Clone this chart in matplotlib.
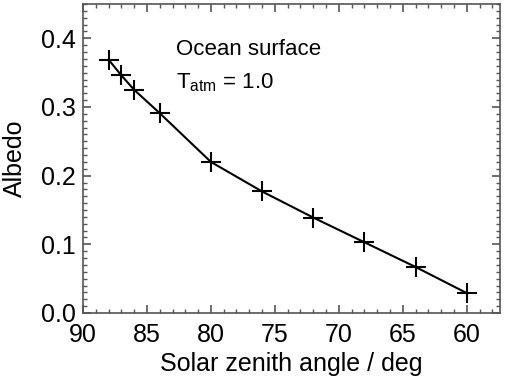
import matplotlib
matplotlib.use("Agg")
import matplotlib.pyplot as plt
from matplotlib.ticker import MultipleLocator, FormatStrFormatter

plt.rcParams['font.family'] = ['Liberation Sans', 'DejaVu Sans']
plt.rcParams['mathtext.fontset'] = 'custom'
plt.rcParams['mathtext.rm'] = 'Liberation Sans'

zenith = [88, 87, 86, 84, 80, 76, 72, 68, 64, 60]
albedo = [0.369, 0.346, 0.325, 0.291, 0.220, 0.177, 0.139, 0.103, 0.067, 0.029]

fig = plt.figure(figsize=(5.09, 3.81), dpi=100)
ax = fig.add_axes([83/509, 1 - 313/381, (500 - 83)/509, (313 - 4)/381])

ax.plot(zenith, albedo, color='black', linewidth=1.5, marker='+',
        markersize=14.5, markeredgewidth=1.5)

ax.set_xlim(90, 57.4)
ax.set_ylim(0, 0.45)
ax.xaxis.set_major_locator(MultipleLocator(5))
ax.xaxis.set_minor_locator(MultipleLocator(1))
ax.yaxis.set_major_locator(MultipleLocator(0.1))
ax.yaxis.set_minor_locator(MultipleLocator(0.01))
ax.yaxis.set_major_formatter(FormatStrFormatter('%.1f'))

ax.tick_params(which='both', direction='in', top=True, right=True,
               color='#555555', labelsize=18)
ax.tick_params(which='major', length=6, width=1.2)
ax.tick_params(which='minor', length=3, width=1.0)
ax.tick_params(axis='x', which='major', pad=7)
ax.tick_params(axis='y', which='major', pad=5)
for s in ax.spines.values():
    s.set_color('#555555')
    s.set_linewidth(1.2)

ax.set_xlabel('Solar zenith angle / deg', fontsize=18, labelpad=3.5)
ax.set_ylabel('Albedo', fontsize=18, labelpad=10)

fig.text(176/509, 1 - 55/381, 'Ocean surface', fontsize=16)
fig.text(176/509, 1 - 88/381, r'T$_{\mathrm{atm}}$ = 1.0', fontsize=16)

fig.savefig('out.png', dpi=100)
